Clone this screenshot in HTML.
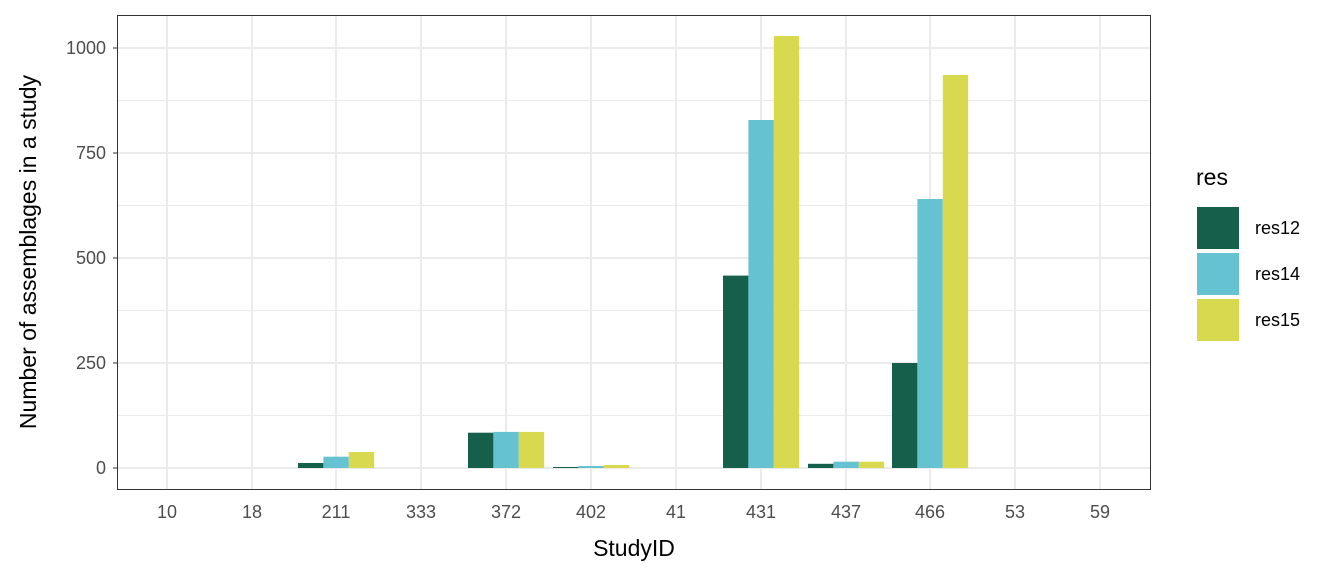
<!DOCTYPE html>
<html><head><meta charset="utf-8"><style>body{margin:0;background:#fff}svg{display:block;font-family:"Liberation Sans",sans-serif}</style></head><body>
<svg width="1344" height="576" xmlns="http://www.w3.org/2000/svg">
<rect width="1344" height="576" fill="#fff"/>
<g stroke="#ebebeb" stroke-width="1">
<line x1="117" x2="1151" y1="415.5" y2="415.5"/><line x1="117" x2="1151" y1="310.5" y2="310.5"/><line x1="117" x2="1151" y1="205.5" y2="205.5"/><line x1="117" x2="1151" y1="100.5" y2="100.5"/>
</g>
<g stroke="#ebebeb" stroke-width="2">
<line x1="117" x2="1151" y1="468" y2="468"/><line x1="117" x2="1151" y1="363" y2="363"/><line x1="117" x2="1151" y1="258" y2="258"/><line x1="117" x2="1151" y1="153" y2="153"/><line x1="117" x2="1151" y1="48" y2="48"/>
<line x1="167" x2="167" y1="15" y2="489"/><line x1="252" x2="252" y1="15" y2="489"/><line x1="336" x2="336" y1="15" y2="489"/><line x1="421" x2="421" y1="15" y2="489"/><line x1="506" x2="506" y1="15" y2="489"/><line x1="591" x2="591" y1="15" y2="489"/><line x1="676" x2="676" y1="15" y2="489"/><line x1="761" x2="761" y1="15" y2="489"/><line x1="846" x2="846" y1="15" y2="489"/><line x1="930" x2="930" y1="15" y2="489"/><line x1="1015" x2="1015" y1="15" y2="489"/><line x1="1100" x2="1100" y1="15" y2="489"/>
</g>
<g>
<rect x="298" y="463" width="25.4" height="5" fill="#16604b"/><rect x="323.4" y="456.7" width="25.4" height="11.3" fill="#64c2d1"/><rect x="348.8" y="452" width="25.4" height="16" fill="#d9d950"/>
<rect x="468" y="432.7" width="25.4" height="35.3" fill="#16604b"/><rect x="493.4" y="431.9" width="25.4" height="36.1" fill="#64c2d1"/><rect x="518.8" y="431.9" width="25.4" height="36.1" fill="#d9d950"/>
<rect x="553" y="467" width="25.4" height="1" fill="#16604b"/><rect x="578.4" y="466" width="25.4" height="2" fill="#64c2d1"/><rect x="603.8" y="465" width="25.4" height="3" fill="#d9d950"/>
<rect x="723" y="275.6" width="25.4" height="192.4" fill="#16604b"/><rect x="748.4" y="120" width="25.4" height="348" fill="#64c2d1"/><rect x="773.8" y="36" width="25.4" height="432" fill="#d9d950"/>
<rect x="808" y="463.8" width="25.4" height="4.2" fill="#16604b"/><rect x="833.4" y="461.7" width="25.4" height="6.3" fill="#64c2d1"/><rect x="858.8" y="461.7" width="25.4" height="6.3" fill="#d9d950"/>
<rect x="892" y="363" width="25.4" height="105" fill="#16604b"/><rect x="917.4" y="199" width="25.4" height="269" fill="#64c2d1"/><rect x="942.8" y="75" width="25.4" height="393" fill="#d9d950"/>
</g>
<rect x="117.5" y="15.5" width="1033" height="474" fill="none" stroke="#333" stroke-width="1"/>
<g stroke="#333" stroke-width="1">
<line x1="113" x2="117" y1="468" y2="468"/><line x1="113" x2="117" y1="363" y2="363"/><line x1="113" x2="117" y1="258" y2="258"/><line x1="113" x2="117" y1="153" y2="153"/><line x1="113" x2="117" y1="48" y2="48"/>
</g>
<g font-size="18" fill="#4d4d4d" text-anchor="end">
<text x="106" y="474">0</text><text x="106" y="369">250</text><text x="106" y="264">500</text><text x="106" y="159">750</text><text x="106" y="54">1000</text>
</g>
<g font-size="18" fill="#4d4d4d" text-anchor="middle">
<text x="167" y="518">10</text><text x="252" y="518">18</text><text x="336" y="518">211</text><text x="421" y="518">333</text><text x="506" y="518">372</text><text x="591" y="518">402</text><text x="676" y="518">41</text><text x="761" y="518">431</text><text x="846" y="518">437</text><text x="930" y="518">466</text><text x="1015" y="518">53</text><text x="1100" y="518">59</text>
</g>
<text x="634" y="556" font-size="23" text-anchor="middle" fill="#000">StudyID</text>
<text transform="translate(36,252) rotate(-90)" font-size="23" text-anchor="middle" fill="#000">Number of assemblages in a study</text>
<text x="1196" y="185" font-size="23" fill="#000">res</text>
<rect x="1197" y="207" width="42" height="42" fill="#16604b"/><rect x="1197" y="253" width="42" height="42" fill="#64c2d1"/><rect x="1197" y="299" width="42" height="42" fill="#d9d950"/>
<g font-size="18" fill="#000"><text x="1255" y="234">res12</text><text x="1255" y="280">res14</text><text x="1255" y="326">res15</text></g>
</svg>
</body></html>
